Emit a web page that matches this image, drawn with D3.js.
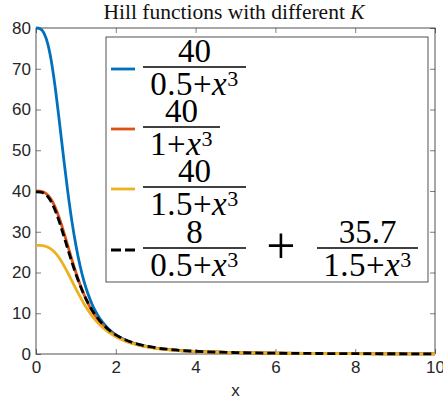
<!DOCTYPE html>
<html>
<head>
<meta charset="utf-8">
<script src="https://cdn.jsdelivr.net/npm/d3@7"></script>
<style>
  body { margin: 0; background: #fff; }
  svg { display: block; }
</style>
</head>
<body>
<svg id="chart" width="443" height="403"></svg>
<script>
// sample points along x
const xs = [0, 0.1, 0.2, 0.3, 0.4, 0.5, 0.6, 0.7, 0.8, 0.9, 1.0, 1.1, 1.2, 1.3, 1.4, 1.5,
  1.6, 1.8, 2.0, 2.25, 2.5, 3, 3.5, 4, 5, 6, 7, 8, 9, 10];

// 40/(0.5+x^3)
const hillK05 = [80, 79.84, 78.74, 75.90, 70.92, 64.00, 55.87, 47.45, 39.53, 32.55, 26.67,
  21.85, 17.95, 14.83, 12.33, 10.32, 8.70, 6.32, 4.71, 3.36, 2.48, 1.45, 0.92, 0.62,
  0.32, 0.18, 0.12, 0.078, 0.055, 0.040];
// 40/(1+x^3)
const hillK1 = [40, 39.96, 39.68, 38.95, 37.59, 35.56, 32.89, 29.78, 26.46, 23.13, 20.00,
  17.16, 14.66, 12.51, 10.68, 9.14, 7.85, 5.85, 4.44, 3.23, 2.41, 1.43, 0.91, 0.62,
  0.32, 0.18, 0.12, 0.078, 0.055, 0.040];
// 40/(1.5+x^3)
const hillK15 = [26.67, 26.65, 26.53, 26.19, 25.58, 24.62, 23.31, 21.70, 19.88, 17.95, 16.00,
  14.13, 12.39, 10.82, 9.43, 8.21, 7.15, 5.46, 4.21, 3.10, 2.34, 1.40, 0.90, 0.61,
  0.32, 0.18, 0.12, 0.078, 0.055, 0.040];
// 8/(0.5+x^3) + 35.7/(1.5+x^3)
const hillMix = [39.80, 39.75, 39.43, 38.56, 37.01, 34.77, 31.98, 28.86, 25.65, 22.53, 19.61,
  16.98, 14.65, 12.62, 10.88, 9.39, 8.12, 6.13, 4.70, 3.44, 2.58, 1.54, 0.99, 0.67,
  0.35, 0.20, 0.13, 0.085, 0.060, 0.044];

const xTicks = [0, 2, 4, 6, 8, 10];
const yTicks = [0, 10, 20, 30, 40, 50, 60, 70, 80];

const series = [
  { values: hillK05, color: "#0072BD", dash: null, num: "40", den: "0.5+" },
  { values: hillK1, color: "#D95319", dash: null, num: "40", den: "1+" },
  { values: hillK15, color: "#EDB120", dash: null, num: "40", den: "1.5+" },
  { values: hillMix, color: "#000000", dash: "8,4", num: "8", den: "0.5+" }
];

const svg = d3.select("#chart");
const margin = { top: 28, right: 8, bottom: 49, left: 36 };
const W = 443, H = 403;
const width = W - margin.left - margin.right;
const height = H - margin.top - margin.bottom;

const x = d3.scaleLinear().domain([0, 10]).range([0, width]);
const y = d3.scaleLinear().domain([0, 80]).range([height, 0]);

const g = svg.append("g").attr("transform", `translate(${margin.left},${margin.top})`);

svg.append("text")
  .attr("x", 234)
  .attr("y", 19)
  .attr("text-anchor", "middle")
  .style("font-family", "Liberation Serif")
  .style("font-size", "21.5px")
  .style("fill", "#111")
  .text("Hill functions with different ")
  .append("tspan").style("font-style", "italic").text("K");

// axes, ticks pointing inward on all four sides
const axisColor = "#262626";
const styleAxis = (sel) => {
  sel.select(".domain").remove();
  sel.selectAll("line").attr("stroke", axisColor).attr("stroke-width", 0.6);
  sel.selectAll("text")
    .style("font-family", "Liberation Sans")
    .style("font-size", "17px")
    .style("fill", axisColor);
};

g.append("g").attr("transform", `translate(0,${height})`)
  .call(d3.axisBottom(x).tickValues(xTicks).tickSize(-5).tickPadding(7))
  .call(styleAxis);
g.append("g")
  .call(d3.axisLeft(y).tickValues(yTicks).tickSize(-5).tickPadding(5))
  .call(styleAxis);
g.append("g")
  .call(d3.axisTop(x).tickValues(xTicks).tickSize(-5).tickFormat(""))
  .call(styleAxis);
g.append("g").attr("transform", `translate(${width},0)`)
  .call(d3.axisRight(y).tickValues(yTicks).tickSize(-5).tickFormat(""))
  .call(styleAxis);

g.append("rect")
  .attr("width", width).attr("height", height)
  .attr("fill", "none").attr("stroke", axisColor).attr("stroke-width", 0.8);

const line = d3.line()
  .x((d, i) => x(xs[i]))
  .y((d) => y(d))
  .curve(d3.curveMonotoneX);

g.selectAll(".series")
  .data(series)
  .join("path")
  .attr("class", "series")
  .attr("d", (d) => line(d.values))
  .attr("fill", "none")
  .attr("stroke", (d) => d.color)
  .attr("stroke-width", 2.8)
  .attr("stroke-dasharray", (d) => d.dash);

// legend with fraction labels
const legend = svg.append("g");
legend.append("rect")
  .attr("x", 106).attr("y", 37).attr("width", 322).attr("height", 245)
  .attr("fill", "#fff").attr("stroke", axisColor).attr("stroke-width", 0.8);

const fontLegend = "Liberation Serif";
const frac = (cx, yBar, barW, num, den) => {
  legend.append("line")
    .attr("x1", cx - barW / 2).attr("x2", cx + barW / 2)
    .attr("y1", yBar).attr("y2", yBar)
    .attr("stroke", "#000").attr("stroke-width", 1.6);
  legend.append("text")
    .attr("x", cx).attr("y", yBar - 5)
    .attr("text-anchor", "middle")
    .style("font-family", fontLegend).style("font-size", "33px")
    .text(num);
  const t = legend.append("text")
    .attr("x", cx).attr("y", yBar + 28)
    .attr("text-anchor", "middle")
    .style("font-family", fontLegend).style("font-size", "33px")
    .style("letter-spacing", "0.5px");
  t.append("tspan").text(den);
  t.append("tspan").style("font-style", "italic").text("x");
  t.append("tspan").attr("dy", -9).style("font-size", "22px").text("3");
};

const rowY = [67, 127, 187, 248];
series.forEach((s, i) => {
  legend.append("line")
    .attr("x1", 111).attr("x2", 135)
    .attr("y1", rowY[i] + 2).attr("y2", rowY[i] + 2)
    .attr("stroke", s.color).attr("stroke-width", 2.8)
    .attr("stroke-dasharray", s.dash ? "10,4" : null);
  const barW = i === 1 ? 77 : 103;
  frac(143 + barW / 2, rowY[i], barW, s.num, s.den);
});
legend.append("text")
  .attr("x", 281).attr("y", 263)
  .attr("text-anchor", "middle")
  .style("font-family", fontLegend).style("font-size", "52px")
  .text("+");
frac(367.5, 248, 101, "35.7", "1.5+");

svg.append("text")
  .attr("x", margin.left + width / 2)
  .attr("y", 396)
  .attr("text-anchor", "middle")
  .style("font-family", "Liberation Sans")
  .style("font-size", "17px")
  .style("fill", axisColor)
  .text("x");
</script>
</body>
</html>
